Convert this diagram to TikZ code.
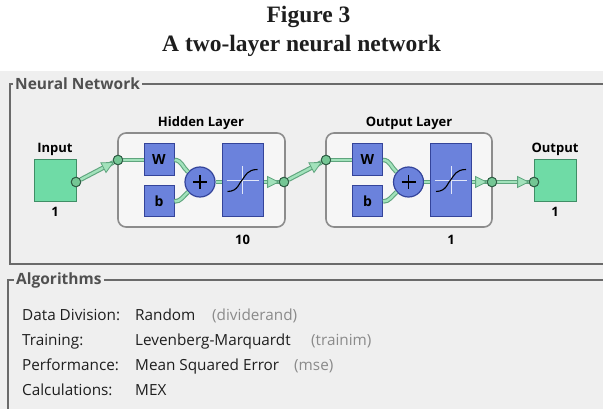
\documentclass[tikz,border=0pt]{standalone}
\usepackage{fontspec}
\setmainfont{Open Sans}
\newfontfamily\titlefont{Liberation Serif}
\usetikzlibrary{decorations.markings,calc}
\definecolor{bgray}{HTML}{EFEFEF}
\definecolor{framec}{HTML}{6A6A6A}
\definecolor{labelc}{HTML}{505050}
\definecolor{textc}{HTML}{1E1E1E}
\definecolor{parenc}{HTML}{8A8A8A}
\definecolor{layerc}{HTML}{8C8C8C}
\definecolor{layerfill}{HTML}{F6F6F6}
\definecolor{bluefill}{HTML}{6B82DC}
\definecolor{blueedge}{HTML}{34449A}
\definecolor{greenfill}{HTML}{6FDBA6}
\definecolor{greenedge}{HTML}{3F8E66}
\definecolor{pipeedge}{HTML}{5FA57E}
\definecolor{pipefill}{HTML}{A2E2BB}
\definecolor{dotfill}{HTML}{74C694}
\definecolor{dotedge}{HTML}{2F5E45}
\tikzset{
  titletext/.style={font=\titlefont\bfseries\fontsize{23.5}{26}\selectfont, text=textc, inner sep=0pt},
  grouplabel/.style={font=\bfseries\fontsize{15.5}{18}\selectfont, text=labelc, inner sep=2pt, anchor=west},
  framepath/.style={draw=framec, line width=1.2pt},
  nodelabel/.style={font=\bfseries\fontsize{13}{15}\selectfont, text=black, inner sep=0pt, anchor=base},
  rowtext/.style={font=\fontsize{15.3}{18}\selectfont, text=textc, inner sep=0pt, anchor=base west},
  parentext/.style={font=\fontsize{15.3}{18}\selectfont, text=parenc, inner sep=0pt, anchor=base west},
  layerbox/.style={draw=layerc, line width=1.6pt, fill=layerfill, rounded corners=8pt},
  greenbox/.style={draw=greenedge, line width=1pt, fill=greenfill, minimum width=42pt, minimum height=42pt, inner sep=0pt},
  bluebox/.style={draw=blueedge, line width=1pt, fill=bluefill, inner sep=0pt, font=\bfseries\fontsize{14}{16}\selectfont},
  sumdot/.style={circle, draw=blueedge, line width=1.2pt, fill=bluefill, minimum size=30pt, inner sep=0pt},
  smalldot/.style={circle, draw=dotedge, line width=0.9pt, fill=dotfill, minimum size=9.5pt, inner sep=0pt},
  pipe/.style={draw=pipeedge, line width=4.6pt, postaction={draw=pipefill, line width=2.4pt}},
  arrowed/.style={postaction={decorate, decoration={markings, mark=at position -0.2pt with {\filldraw[fill=pipefill, draw=pipeedge, line width=0.8pt, line join=miter] (0,0) -- (-11,5.5) -- (-11,-5.5) -- cycle;}}}}
}
\begin{document}
\begin{tikzpicture}[x=1pt,y=-1pt]
\useasboundingbox (0,0) rectangle (603,409);
% titles
\node[titletext, anchor=base] (t1) at (308.5,23) {Figure 3};
\node[titletext, anchor=base] (t2) at (301.5,52) {A two-layer neural network};
% background panel
\fill[bgray] (0,71) rectangle (603,409);
% Neural network frame
\node[grouplabel] (nnlab) at (13,84) {Neural Network};
\draw[framepath] (nnlab.west) -- (10,84) -- (10,264) -- (603,264);
\draw[framepath] (nnlab.east) -- (603,84);
% Algorithms frame
\node[grouplabel] (alglab) at (14,280) {Algorithms};
\draw[framepath] (alglab.west) -- (8,280) -- (8,409);
\draw[framepath] (alglab.east) -- (603,280);
% layer boxes
\draw[layerbox] (118,133) rectangle (285,227);
\draw[layerbox] (326,133) rectangle (492,227);
\node[nodelabel] (hlab) at (201,127) {Hidden Layer};
\node[nodelabel] (olab) at (409,127) {Output Layer};
\node[nodelabel] (hn) at (242.5,244) {10};
\node[nodelabel] (on) at (451,244) {1};
% input / output
\node[greenbox] (in) at (55,181) {};
\node[greenbox] (out) at (555,181) {};
\node[nodelabel] (inlab) at (55,153) {Input};
\node[nodelabel] (inn) at (55,217) {1};
\node[nodelabel] (outlab) at (555,153) {Output};
\node[nodelabel] (outn) at (555,217) {1};
% hidden layer elements
\node[bluebox, minimum width=30pt, minimum height=32pt] (W1) at (159,160) {W};
\node[bluebox, minimum width=30pt, minimum height=31pt] (b1) at (159,201.5) {b};
\node[sumdot] (s1) at (200,182) {};
\node[bluebox, minimum width=41pt, minimum height=73pt] (tf1) at (242.5,180.5) {};
% output layer elements
\node[bluebox, minimum width=30pt, minimum height=32pt] (W2) at (367.5,160) {W};
\node[bluebox, minimum width=30pt, minimum height=31pt] (b2) at (367.5,201.5) {b};
\node[sumdot] (s2) at (408.5,182) {};
\node[bluebox, minimum width=41pt, minimum height=73pt] (tf2) at (451,180.5) {};
% connectors
\draw[pipe] (W1.east) to[out=0,in=140] (s1.140);
\draw[pipe] (b1.east) to[out=0,in=220] (s1.220);
\draw[pipe] (s1.east) -- (tf1.west|-s1.east);
\draw[pipe] (W2.east) to[out=0,in=140] (s2.140);
\draw[pipe] (b2.east) to[out=0,in=220] (s2.220);
\draw[pipe] (s2.east) -- (tf2.west|-s2.east);
% small dots
\node[smalldot] (inC) at (76,182) {};
\node[smalldot] (hC1) at (118,160) {};
\node[smalldot] (hC2) at (284,182) {};
\node[smalldot] (oC1) at (326,160) {};
\node[smalldot] (oC2) at (492,182) {};
\node[smalldot] (outC) at (534,182) {};
\draw[pipe, arrowed] (inC) -- (hC1);
\draw[pipe] (hC1) -- (W1.west|-hC1);
\draw[pipe, arrowed] (tf1.east|-hC2) -- (hC2);
\draw[pipe, arrowed] (hC2) -- (oC1);
\draw[pipe] (oC1) -- (W2.west|-oC1);
\draw[pipe, arrowed] (tf2.east|-oC2) -- (oC2);
\draw[pipe, arrowed] (oC2) -- (outC);
% redraw dots on top
\foreach \d in {inC,hC1,hC2,oC1,oC2,outC}{\node[smalldot] at (\d) {};}
% plus signs
\foreach \s in {s1,s2}{
  \draw[line width=1.2pt] ($(\s)+(-7,0)$) -- ($(\s)+(7,0)$);
  \draw[line width=1.2pt] ($(\s)+(0,-7)$) -- ($(\s)+(0,7)$);
}
% transfer functions
\foreach \t in {tf1,tf2}{
  \begin{scope}[shift={(\t.center)}]
    \draw[white!80!bluefill, line width=0.7pt] (-16,0) -- (16,0);
    \draw[white!80!bluefill, line width=0.7pt] (0,-14) -- (0,14);
    \draw[black, line width=1.1pt] (-15,11) .. controls (-4,11) and (-3,1) .. (0,-1) .. controls (3,-5) and (5,-11) .. (15,-11);
  \end{scope}
}
% algorithms text
\node[rowtext] (l1) at (22,320) {Data Division:};
\node[rowtext] (l2) at (22,345) {Training:};
\node[rowtext] (l3) at (22,370.5) {Performance:};
\node[rowtext] (l4) at (22,395.5) {Calculations:};
\node[rowtext] (v1) at (135,320) {Random};
\node[rowtext] (v2) at (135,345) {Levenberg-Marquardt};
\node[rowtext] (v3) at (135,370.5) {Mean Squared Error};
\node[rowtext] (v4) at (135,395.5) {MEX};
\node[parentext] (p1) at (212,320) {(dividerand)};
\node[parentext] (p2) at (311,345) {(trainim)};
\node[parentext] (p3) at (294,370.5) {(mse)};
\end{tikzpicture}
\end{document}
